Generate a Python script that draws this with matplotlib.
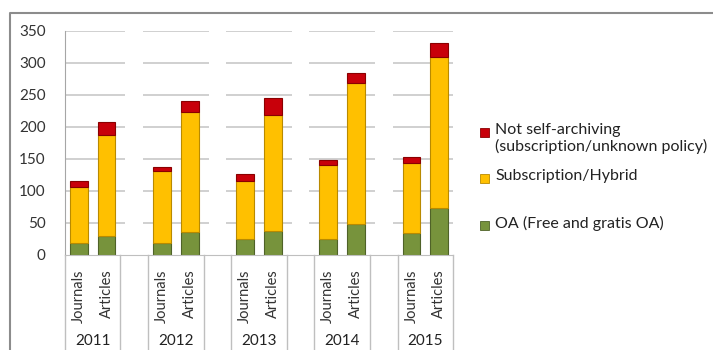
import matplotlib
matplotlib.use("Agg")
from matplotlib import pyplot as plt
from matplotlib.lines import Line2D
from matplotlib.patches import Rectangle
import numpy as np

plt.rcParams['font.family'] = ['Lato', 'DejaVu Sans']

years = ['2011', '2012', '2013', '2014', '2015']
kinds = ['Journals', 'Articles']

# segment heights per year: journals, articles
oa_journals = [18, 18, 25, 25, 34]
oa_articles = [30, 36, 38, 48, 73]
sub_journals = [88, 113, 91, 115, 110]
sub_articles = [158, 187, 181, 221, 236]
not_journals = [9, 7, 11, 8, 9]
not_articles = [20, 17, 26, 15, 23]

labels = ['OA (Free and gratis OA)', 'Subscription/Hybrid',
          'Not self-archiving\n(subscription/unknown policy)']
face = ['#77933C', '#FFC000', '#C8000A']
edge = ['#4F6228', '#B98A00', '#8A0000']

W, H = 713, 350
fig = plt.figure(figsize=(W / 100, H / 100), dpi=100)
ax = fig.add_axes([65 / W, (H - 255) / H, (453 - 65) / W, (255 - 31) / H])

# slot positions: two bars per year, then an empty slot
xj = np.array([3 * k for k in range(len(years))])
xa = xj + 1
blanks = xj[:-1] + 2
bw = 0.64

# segmented gridlines (broken under the empty slots)
yticks = np.arange(50, 351, 50)
edges_x = [-0.5] + [v for b in blanks for v in (b - bw / 2, b + bw / 2)] + [13.5]
for i in range(0, len(edges_x), 2):
    ax.hlines(yticks, edges_x[i], edges_x[i + 1], color='#C8C8C8', lw=1.2, zorder=0)

for pos, oa, sub, nsa in [(xj, oa_journals, sub_journals, not_journals),
                          (xa, oa_articles, sub_articles, not_articles)]:
    bottom = np.zeros(len(years))
    for vals, fc, ec in zip([oa, sub, nsa], face, edge):
        ax.bar(pos, vals, bw, bottom=bottom, color=fc, edgecolor=ec, lw=0.8, zorder=2)
        bottom += np.array(vals)

ax.set_xlim(-0.5, 13.5)
ax.set_ylim(0, 350)
ax.set_yticks(np.arange(0, 351, 50))
ax.tick_params(axis='y', length=0, pad=14, labelsize=11, labelcolor='#333333')
ax.set_xticks([])
for s in ['top', 'right']:
    ax.spines[s].set_visible(False)
ax.spines['left'].set_color('#A6A6A6')
ax.spines['bottom'].set_color('#BFBFBF')

# category axis: rotated bar labels, year labels, separators
xt = ax.get_xaxis_transform()
for k, yr in enumerate(years):
    for x, kind in zip((xj[k], xa[k]), kinds):
        ax.text(x, -0.065, kind, rotation=90, ha='center', va='top',
                fontsize=10.5, color='#333333', transform=xt)
    ax.text(xj[k] + 0.5, -0.385, yr, ha='center', va='center',
            fontsize=11, color='#222222', transform=xt)
    for sx in (xj[k] - 0.5, xa[k] + 0.5):
        ax.plot([sx, sx], [0, -0.45], color='#BFBFBF', lw=1,
                transform=xt, clip_on=False)

# legend
leg_y = [225, 178, 132]
for y, lab, fc, ec in zip(leg_y, labels, face, edge):
    fig.patches.append(Rectangle((480 / W, 1 - (y + 4.5) / H), 9 / W, 9 / H,
                                 facecolor=fc, edgecolor=ec, lw=0.6,
                                 transform=fig.transFigure))
    fig.text(495 / W, 1 - (y - 9) / H, lab, ha='left', va='top', fontsize=11.5,
             color='#222222', linespacing=1.2)

# outer chart frame
fig.add_artist(Line2D([10 / W, 10 / W, 1], [0, 1 - 13 / H, 1 - 13 / H],
                      color='#8C8C8C', lw=1.5, transform=fig.transFigure))

fig.savefig('out.png', dpi=100)
